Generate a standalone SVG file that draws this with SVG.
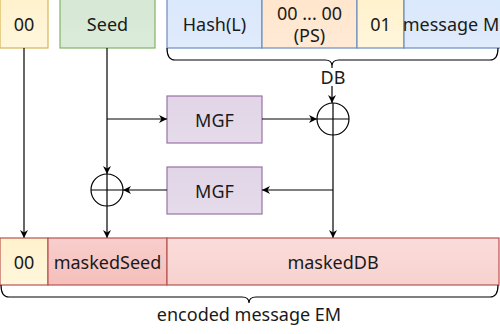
<svg xmlns="http://www.w3.org/2000/svg" width="500" height="334" viewBox="0 0 500 334">
<style>
text{font-family:"Noto Sans","Open Sans","DejaVu Sans",sans-serif;font-size:18px;fill:#1a1a1a;text-anchor:middle;dominant-baseline:central}
.c{fill:none;stroke:#000;stroke-width:1.2}
.br{fill:none;stroke:#000;stroke-width:1.2}
</style>
<defs>
<linearGradient id="gy" x1="0" y1="0" x2="0" y2="1"><stop offset="0" stop-color="#fff2cc"/><stop offset="1" stop-color="#fff6dc"/></linearGradient>
<linearGradient id="gg" x1="0" y1="0" x2="0" y2="1"><stop offset="0" stop-color="#d5e8d4"/><stop offset="1" stop-color="#dbebda"/></linearGradient>
<linearGradient id="gb" x1="0" y1="0" x2="0" y2="1"><stop offset="0" stop-color="#dae8fc"/><stop offset="1" stop-color="#e0ebfb"/></linearGradient>
<linearGradient id="go" x1="0" y1="0" x2="0" y2="1"><stop offset="0" stop-color="#ffe6cc"/><stop offset="1" stop-color="#ffead6"/></linearGradient>
<linearGradient id="gp" x1="0" y1="0" x2="0" y2="1"><stop offset="0" stop-color="#e1d5e7"/><stop offset="1" stop-color="#e5dbea"/></linearGradient>
<linearGradient id="gr" x1="0" y1="0" x2="0" y2="1"><stop offset="0" stop-color="#f8cecc"/><stop offset="1" stop-color="#f5bfbb"/></linearGradient>
<linearGradient id="gl" x1="0" y1="0" x2="0" y2="1"><stop offset="0" stop-color="#fadcda"/><stop offset="1" stop-color="#f7d2cf"/></linearGradient>
<marker id="a" viewBox="0 0 10 10" refX="10" refY="5" markerWidth="8" markerHeight="8" markerUnits="userSpaceOnUse" orient="auto">
<path d="M0,0 L10,5 L0,10 L3,5 z" fill="#000"/>
</marker>
</defs>

<g id="top00"><rect x="0" y="-1" width="48" height="49" fill="url(#gy)" stroke="#d6b656" stroke-width="1.2"/><text x="24" y="24">00</text></g>
<g id="seed"><rect x="60" y="-1" width="95" height="49" fill="url(#gg)" stroke="#82b366" stroke-width="1.2"/><text x="107.5" y="24">Seed</text></g>
<g id="hash"><rect x="167" y="-1" width="95" height="49" fill="url(#gb)" stroke="#6c8ebf" stroke-width="1.2"/><text x="214.5" y="24">Hash(L)</text></g>
<g id="ps"><rect x="262" y="-1" width="95" height="49" fill="url(#go)" stroke="#6c8ebf" stroke-width="1.2"/><text x="309.5" y="13">00 ... 00</text><text x="309.5" y="35">(PS)</text></g>
<g id="one"><rect x="357" y="-1" width="47" height="49" fill="url(#gy)" stroke="#6c8ebf" stroke-width="1.2"/><text x="380.5" y="24">01</text></g>
<g id="msg"><rect x="404" y="-1" width="100" height="49" fill="url(#gb)" stroke="#6c8ebf" stroke-width="1.2"/><text x="451" y="24">message M</text></g>

<g id="braceDB"><path class="br" d="M167,48 Q167,60 175,60 L325,60 Q332,60 332,66 Q332,60 339,60 L490,60 Q498,60 498,48"/></g>

<g id="mgf1"><rect x="167" y="96" width="95" height="47" fill="url(#gp)" stroke="#9673a6" stroke-width="1.2"/><text x="214.5" y="119.5">MGF</text></g>
<g id="mgf2"><rect x="167" y="167" width="95" height="47" fill="url(#gp)" stroke="#9673a6" stroke-width="1.2"/><text x="214.5" y="190.5">MGF</text></g>

<g id="xor1"><circle cx="333" cy="119" r="16" fill="#fff" stroke="#000" stroke-width="1.2"/><path class="c" d="M317,119 H349 M333,103 V135"/></g>
<g id="xor2"><circle cx="107" cy="190" r="16" fill="#fff" stroke="#000" stroke-width="1.2"/><path class="c" d="M91,190 H123 M107,174 V206"/></g>

<g id="connectors">
<path class="c" d="M24,48 V238" marker-end="url(#a)"/>
<path class="c" d="M107,48 V174" marker-end="url(#a)"/>
<path class="c" d="M107,206 V238" marker-end="url(#a)"/>
<path class="c" d="M107,119 H167" marker-end="url(#a)"/>
<path class="c" d="M262,119 H317" marker-end="url(#a)"/>
<path class="c" d="M332,66 V103" marker-end="url(#a)"/>
<path class="c" d="M333,135 V238" marker-end="url(#a)"/>
<path class="c" d="M333,190 H262" marker-end="url(#a)"/>
<path class="c" d="M167,190 H123" marker-end="url(#a)"/>
<rect x="319" y="68" width="28" height="18" fill="#fff"/>
<text x="333" y="77">DB</text>
</g>

<g id="em00"><rect x="0" y="238" width="48" height="47" fill="url(#gy)" stroke="#b85450" stroke-width="1.2"/><text x="24" y="262">00</text></g>
<g id="maskedSeed"><rect x="48" y="238" width="119" height="47" fill="url(#gr)" stroke="#b85450" stroke-width="1.2"/><text x="107.5" y="262">maskedSeed</text></g>
<g id="maskedDB"><rect x="167" y="238" width="332" height="47" fill="url(#gl)" stroke="#b85450" stroke-width="1.2"/><text x="333" y="262">maskedDB</text></g>

<g id="braceEM"><path class="br" d="M1,285 Q1,297 9,297 L242,297 Q249,297 249,303 Q249,297 256,297 L490,297 Q498,297 498,285"/><text x="249" y="314">encoded message EM</text></g>
</svg>
